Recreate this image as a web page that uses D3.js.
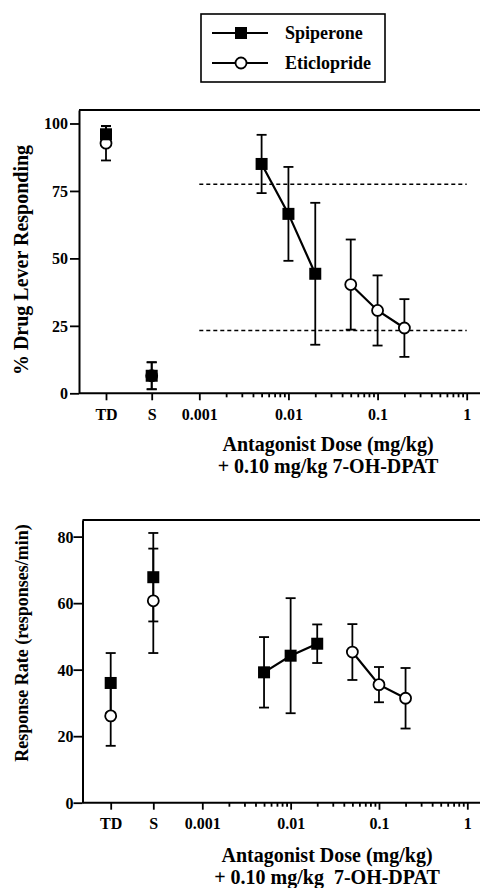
<!DOCTYPE html>
<html>
<head>
<meta charset="utf-8">
<script src="https://cdn.jsdelivr.net/npm/d3@7"></script>
<style>
  body { margin: 0; background: #fff; }
  svg { display: block; font-family: 'Liberation Serif', serif; font-weight: bold; }
</style>
</head>
<body>
<script>
// categories / doses
const controls = ['TD', 'S']
const doseSpip = [0.005, 0.01, 0.02]
const doseEtic = [0.05, 0.1, 0.2]
const majorDoses = [0.001, 0.01, 0.1, 1]
const doseLabels = ['0.001', '0.01', '0.1', '1']

// % drug lever responding
const drugSpipCtrl = [96, 6.5]
const drugSpipCtrlErr = [3, 5]
const drugEticCtrl = [92.7, 6.5]
const drugEticCtrlErr = [6.4, 5]
const drugSpip = [85, 66.5, 44.3]
const drugSpipErr = [10.8, 17.4, 26.3]
const drugEtic = [40.3, 30.7, 24.2]
const drugEticErr = [16.7, 13, 10.7]
const criterion = [77.5, 23.3]

// response rate
const rateSpipCtrl = [36, 67.8]
const rateSpipCtrlErr = [9, 13.3]
const rateEticCtrl = [26.1, 60.7]
const rateEticCtrlErr = [9, 15.7]
const rateSpip = [39.2, 44.2, 47.8]
const rateSpipErr = [10.6, 17.3, 5.8]
const rateEtic = [45.3, 35.5, 31.4]
const rateEticErr = [8.4, 5.3, 9.1]

const width = 480, height = 888

const svg = d3.select('body').append('svg')
  .attr('width', width).attr('height', height)

// legend
const lg = svg.append('g')
lg.append('rect').attr('x', 201).attr('y', 14).attr('width', 184).attr('height', 68)
  .attr('fill', 'none').attr('stroke', '#000').attr('stroke-width', 1.6)
const legendItems = [{ name: 'Spiperone', sq: true, y: 33 }, { name: 'Eticlopride', sq: false, y: 63 }]
legendItems.forEach(d => {
  lg.append('line').attr('x1', 212).attr('x2', 268).attr('y1', d.y).attr('y2', d.y)
    .attr('stroke', '#000').attr('stroke-width', 1.8)
  if (d.sq) lg.append('rect').attr('x', 235).attr('y', d.y - 6).attr('width', 12).attr('height', 12).attr('fill', '#000')
  else lg.append('circle').attr('cx', 241).attr('cy', d.y).attr('r', 5.5).attr('fill', '#fff').attr('stroke', '#000').attr('stroke-width', 1.8)
  lg.append('text').attr('x', 285).attr('y', d.y + 6).attr('font-size', 18).text(d.name)
})

function panel(cfg) {
  const { left, top, bottom, right, yMax, yTicks, cat, logRange, yTitle, ySpip, ySpipErr, yEtic, yEticErr, ySpipC, ySpipCErr, yEticC, yEticCErr, dashed, titleY } = cfg
  const y = d3.scaleLinear().domain([0, yMax]).range([bottom, top])
  const xc = d3.scalePoint().domain(controls).range(cat)
  const x = d3.scaleLog().domain([0.001, 1]).range(logRange)
  const g = svg.append('g')

  // frame top + x axis line
  g.append('line').attr('x1', left).attr('x2', right).attr('y1', top).attr('y2', top)
    .attr('stroke', '#000').attr('stroke-width', 2)
  g.append('line').attr('x1', left).attr('x2', right).attr('y1', bottom).attr('y2', bottom)
    .attr('stroke', '#000').attr('stroke-width', 2)

  // y axis
  const ya = g.append('g').attr('transform', `translate(${left},0)`)
    .call(d3.axisLeft(y).tickValues(yTicks).tickSize(9).tickSizeOuter(0).tickPadding(cfg.yPad))
  ya.select('.domain').attr('stroke-width', 2)
  ya.selectAll('.tick line').attr('stroke-width', 1.8)
  ya.selectAll('text').attr('font-size', 16).attr('font-family', 'Liberation Serif').attr('font-weight', 'bold').attr('dy', '0.34em')

  // x ticks
  const minors = []
  for (let e = -3; e < 0; e++) for (let k = 2; k < 10; k++) minors.push(k * Math.pow(10, e))
  const xm = g.append('g').attr('transform', `translate(0,${bottom})`)
    .call(d3.axisBottom(x).tickValues(minors).tickSize(4).tickFormat(''))
  xm.select('.domain').remove()
  xm.selectAll('.tick line').attr('stroke-width', 1.5)
  const xM = g.append('g').attr('transform', `translate(0,${bottom})`)
    .call(d3.axisBottom(x).tickValues(majorDoses).tickSize(7).tickFormat((d, i) => doseLabels[i]).tickPadding(8))
  xM.select('.domain').remove()
  const xC = g.append('g').attr('transform', `translate(0,${bottom})`)
    .call(d3.axisBottom(xc).tickSize(7).tickPadding(8))
  xC.select('.domain').remove()
  g.selectAll('.tick line').attr('stroke-width', 1.8)
  ;[xM, xC].forEach(a => a.selectAll('text').attr('font-size', 16).attr('font-family', 'Liberation Serif').attr('font-weight', 'bold'))

  // titles
  g.append('text').attr('transform', `translate(28,${cfg.yTitleY}) rotate(-90)`)
    .attr('text-anchor', 'middle').attr('font-size', cfg.yTitleSize).text(yTitle)
  g.append('text').attr('x', cfg.titleX).attr('y', titleY).attr('text-anchor', 'middle').attr('font-size', 20).text('Antagonist Dose (mg/kg)')
  g.append('text').attr('x', cfg.titleX).attr('y', titleY + 22).attr('text-anchor', 'middle').attr('font-size', 20).attr('xml:space', 'preserve').text(cfg.title2)

  // criterion lines
  if (dashed) dashed.forEach(v => g.append('line').attr('x1', x(0.001)).attr('x2', x(1)).attr('y1', y(v)).attr('y2', y(v))
    .attr('stroke', '#000').attr('stroke-width', 1.5).attr('stroke-dasharray', '4,3'))

  const pts = (xs, vals, errs, fx) => xs.map((d, i) => ({ x: fx(d), y: vals[i], e: errs[i] }))
  const spipC = pts(controls, ySpipC, ySpipCErr, xc)
  const eticC = pts(controls, yEticC, yEticCErr, xc)
  const spip = pts(doseSpip, ySpip, ySpipErr, x)
  const etic = pts(doseEtic, yEtic, yEticErr, x)
  const all = [...eticC, ...etic, ...spipC, ...spip]

  // error bars
  const eb = g.append('g').attr('stroke', '#000').attr('stroke-width', 1.8)
  all.forEach(p => {
    eb.append('line').attr('x1', p.x).attr('x2', p.x).attr('y1', y(p.y - p.e)).attr('y2', y(p.y + p.e))
    ;[p.y - p.e, p.y + p.e].forEach(v => eb.append('line').attr('x1', p.x - 5).attr('x2', p.x + 5).attr('y1', y(v)).attr('y2', y(v)))
  })

  const line = d3.line().x(d => d.x).y(d => y(d.y))
  g.append('path').datum(spip).attr('d', line).attr('fill', 'none').attr('stroke', '#000').attr('stroke-width', 2.2)
  g.append('path').datum(etic).attr('d', line).attr('fill', 'none').attr('stroke', '#000').attr('stroke-width', 2.2)

  g.selectAll('circle.etic').data([...eticC, ...etic]).join('circle').attr('class', 'etic')
    .attr('cx', d => d.x).attr('cy', d => y(d.y)).attr('r', 5.5)
    .attr('fill', '#fff').attr('stroke', '#000').attr('stroke-width', 1.8)
  g.selectAll('rect.spip').data([...spipC, ...spip]).join('rect').attr('class', 'spip')
    .attr('x', d => d.x - 6).attr('y', d => y(d.y) - 6).attr('width', 12).attr('height', 12).attr('fill', '#000')
}

panel({
  left: 79, top: 110, bottom: 393.3, right: 486, yMax: 105, yTicks: [0, 25, 50, 75, 100], yPad: 2,
  cat: [106, 151.7], logRange: [199.3, 466.7], yTitle: '% Drug Lever Responding', yTitleY: 260, yTitleSize: 20,
  ySpipC: drugSpipCtrl, ySpipCErr: drugSpipCtrlErr, yEticC: drugEticCtrl, yEticCErr: drugEticCtrlErr,
  ySpip: drugSpip, ySpipErr: drugSpipErr, yEtic: drugEtic, yEticErr: drugEticErr, dashed: criterion,
  titleX: 328, titleY: 451, title2: '+ 0.10 mg/kg 7-OH-DPAT'
})

panel({
  left: 82.5, top: 520, bottom: 802.7, right: 486, yMax: 85, yTicks: [0, 20, 40, 60, 80], yPad: 0,
  cat: [110.7, 153.3], logRange: [202.3, 467.3], yTitle: 'Response Rate (responses/min)', yTitleY: 643, yTitleSize: 18,
  ySpipC: rateSpipCtrl, ySpipCErr: rateSpipCtrlErr, yEticC: rateEticCtrl, yEticCErr: rateEticCtrlErr,
  ySpip: rateSpip, ySpipErr: rateSpipErr, yEtic: rateEtic, yEticErr: rateEticErr, dashed: null,
  titleX: 327, titleY: 862, title2: '+ 0.10 mg/kg  7-OH-DPAT'
})
</script>
</body>
</html>
